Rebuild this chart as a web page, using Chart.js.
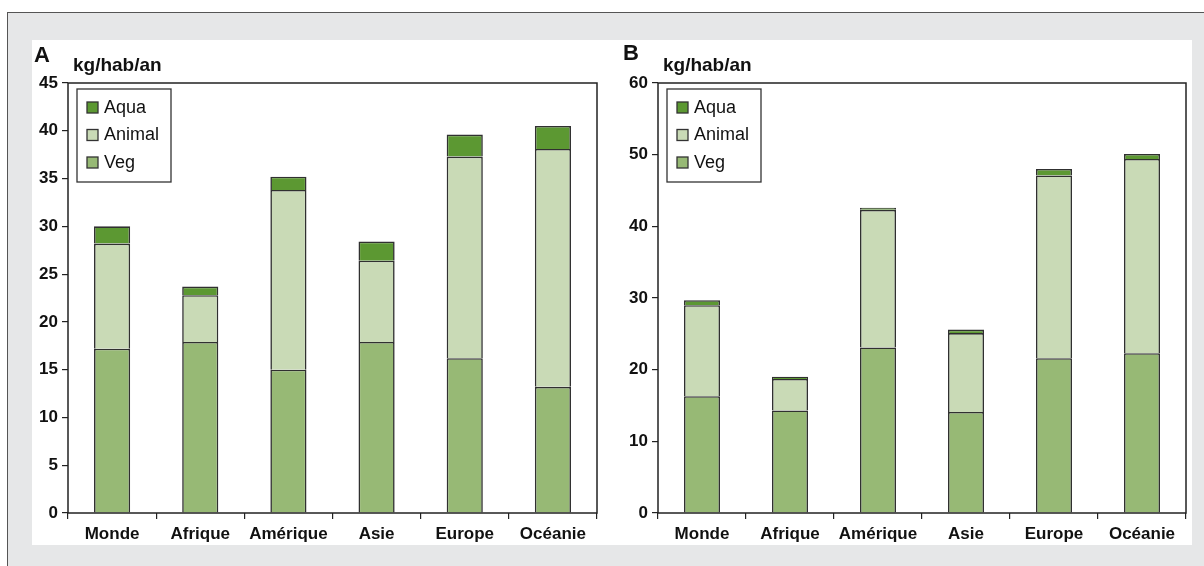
<!DOCTYPE html>
<html>
<head>
<meta charset="utf-8">
<script src="https://cdn.jsdelivr.net/npm/chart.js@4.4.0/dist/chart.umd.min.js"></script>
<style>
    html, body { margin: 0; padding: 0; background: #fff; }
    body { width: 1204px; height: 566px; position: relative; overflow: hidden; font-family: "Liberation Sans", Arial, sans-serif; }
    #frame { position: absolute; left: 7px; top: 12px; right: -4px; bottom: -4px; background: #e6e7e8; border: 1.5px solid #555; }
    #sheet { position: absolute; left: 32px; top: 40px; width: 1160px; height: 505px; background: #fff; }
    canvas { position: absolute; top: 40px; }
    #chartA { left: 28px; }
    #chartB { left: 618px; }
</style>
</head>
<body>
<div id="frame"></div>
<div id="sheet"></div>
<canvas id="chartA" width="571" height="505"></canvas>
<canvas id="chartB" width="570" height="505"></canvas>

<script>
// ===========================
// Data (kg/hab/an)
// ===========================

const categories = ['Monde', 'Afrique', 'Amérique', 'Asie', 'Europe', 'Océanie'];
const seriesNames = ['Veg', 'Animal', 'Aqua'];

// Panel A
const vegA    = [17.2, 17.9, 15.0, 17.9, 16.2, 13.2];
const animalA = [11.0,  4.9, 18.8,  8.5, 21.1, 24.9];
const aquaA   = [ 1.8,  0.9,  1.4,  2.0,  2.3,  2.4];
const yMaxA = 45;
const yStepA = 5;

// Panel B
const vegB    = [16.3, 14.3, 23.1, 14.1, 21.6, 22.3];
const animalB = [12.7,  4.4, 19.2, 11.0, 25.5, 27.1];
const aquaB   = [ 0.7,  0.3,  0.3,  0.5,  0.9,  0.7];
const yMaxB = 60;
const yStepB = 10;

const COLORS = {
    Veg: '#97b975',
    Animal: '#c9dab6',
    Aqua: '#5c9832'
};
const INK = '#222';
const FONT = '"Liberation Sans", Arial, sans-serif';

// ===========================
// Plugins
// ===========================

// plot frame, panel letter, unit label and boxed legend
const panelDecor = {
    id: 'panelDecor',
    afterDraw(chart, args, opts) {
        const { ctx, chartArea } = chart;
        const a = chartArea;
        ctx.save();

        // frame around plot area
        ctx.strokeStyle = INK;
        ctx.lineWidth = 1.5;
        ctx.strokeRect(a.left, a.top, a.right - a.left, a.bottom - a.top);

        // panel letter + unit
        ctx.fillStyle = '#111';
        ctx.textBaseline = 'alphabetic';
        ctx.textAlign = 'left';
        ctx.font = 'bold 22px ' + FONT;
        ctx.fillText(opts.letter, a.left + opts.letterDx, a.top - opts.letterDy);
        ctx.font = 'bold 19px ' + FONT;
        ctx.fillText('kg/hab/an', a.left + 5, a.top - 12);

        // legend box
        const bx = a.left + 9, by = a.top + 6, bw = 94, bh = 93;
        ctx.fillStyle = '#fff';
        ctx.fillRect(bx, by, bw, bh);
        ctx.strokeStyle = '#333';
        ctx.lineWidth = 1.3;
        ctx.strokeRect(bx, by, bw, bh);

        const items = chart.data.datasets.slice().reverse();
        ctx.font = '18px ' + FONT;
        ctx.textBaseline = 'middle';
        items.forEach((ds, i) => {
            const cy = by + 18 + i * 27.5;
            ctx.fillStyle = ds.backgroundColor;
            ctx.fillRect(bx + 10, cy - 5, 11, 11);
            ctx.strokeStyle = '#333';
            ctx.lineWidth = 1.3;
            ctx.strokeRect(bx + 10, cy - 5, 11, 11);
            ctx.fillStyle = '#111';
            ctx.fillText(ds.label, bx + 27, cy + 1);
        });

        ctx.restore();
    }
};

// ===========================
// Charts
// ===========================

function makeDatasets(veg, animal, aqua) {
    const values = { Veg: veg, Animal: animal, Aqua: aqua };
    return seriesNames.map(name => ({
        label: name,
        data: values[name],
        backgroundColor: COLORS[name],
        borderColor: '#303030',
        borderWidth: 1.6,
        borderSkipped: 'start',
        barPercentage: 0.41,
        categoryPercentage: 1.0
    }));
}

function createPanel(canvasId, letter, letterDx, letterDy, veg, animal, aqua, yMax, yStep) {
    const ctx = document.getElementById(canvasId);
    if (!ctx) return;

    return new Chart(ctx, {
        type: 'bar',
        data: {
            labels: categories,
            datasets: makeDatasets(veg, animal, aqua)
        },
        options: {
            responsive: false,
            animation: false,
            layout: {
                padding: { top: 43, right: 2, left: 0, bottom: 0 }
            },
            plugins: {
                legend: { display: false },
                tooltip: { enabled: false },
                panelDecor: { letter: letter, letterDx: letterDx, letterDy: letterDy }
            },
            scales: {
                x: {
                    stacked: true,
                    border: { display: false },
                    grid: {
                        offset: true,
                        drawOnChartArea: false,
                        drawTicks: true,
                        tickLength: 6,
                        color: INK,
                        lineWidth: 1.2
                    },
                    ticks: {
                        color: '#111',
                        padding: 5,
                        font: { family: FONT, size: 17, weight: 'bold' }
                    },
                    afterFit(scale) { scale.height = 32; }
                },
                y: {
                    stacked: true,
                    min: 0,
                    max: yMax,
                    border: { display: false },
                    grid: {
                        drawOnChartArea: false,
                        drawTicks: true,
                        tickLength: 6,
                        color: INK,
                        lineWidth: 1.2
                    },
                    ticks: {
                        stepSize: yStep,
                        color: '#111',
                        padding: 4,
                        font: { family: FONT, size: 17, weight: 'bold' }
                    },
                    afterFit(scale) { scale.width = 40; }
                }
            }
        },
        plugins: [panelDecor]
    });
}

document.addEventListener('DOMContentLoaded', function() {
    createPanel('chartA', 'A', -34, 21, vegA, animalA, aquaA, yMaxA, yStepA);
    createPanel('chartB', 'B', -35, 23, vegB, animalB, aquaB, yMaxB, yStepB);
});
</script>
</body>
</html>
